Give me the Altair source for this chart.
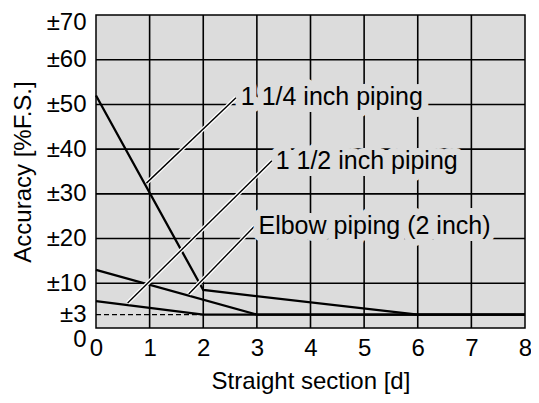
import altair as alt
import pandas as pd

# ---- data ----
s14_x = [0, 2, 6, 8]
s14_y = [52, 8.5, 3, 3]
elbow_x = [0, 3, 8]
elbow_y = [13, 3, 3]
s12_x = [0, 2, 8]
s12_y = [6, 3, 3]

dash_x = [0, 2]
dash_y = [3, 3]

labels = ["1 1/4 inch piping", "1 1/2 inch piping", "Elbow piping (2 inch)"]
leader_x1 = [0.94, 0.59, 1.73]
leader_y1 = [32.4, 5.6, 7.6]
leader_x2 = [2.61, 3.28, 2.96]
leader_y2 = [51.5, 37.4, 22.8]
label_x = [2.7, 3.35, 3.03]
label_y = [51.7, 37.4, 22.8]

x_ticks = [0, 1, 2, 3, 4, 5, 6, 7, 8]
y_ticks = [0, 3, 10, 20, 30, 40, 50, 60, 70]
x_grid = [1, 2, 3, 4, 5, 6, 7]
y_grid = [10, 20, 30, 40, 50, 60]

FONT = "Liberation Sans"
BG = "#dcdcdc"

rows = []
for name, xs, ys in [("s14", s14_x, s14_y), ("elbow", elbow_x, elbow_y), ("s12", s12_x, s12_y)]:
    for i, (a, b) in enumerate(zip(xs, ys)):
        rows.append({"series": name, "x": a, "y": b, "order": i})
lines_df = pd.DataFrame(rows)
dash_df = pd.DataFrame({"x": dash_x, "y": dash_y})
lead_df = pd.DataFrame({"x": leader_x1, "y": leader_y1, "x2": leader_x2, "y2": leader_y2})
lab_df = pd.DataFrame({"label": labels, "x": label_x, "y": label_y})
xg_df = pd.DataFrame({"x": x_grid})
yg_df = pd.DataFrame({"y": y_grid})

xscale = alt.Scale(domain=[0, 8], nice=False, zero=False)
yscale = alt.Scale(domain=[0, 70], nice=False, zero=False)

xaxis = alt.Axis(values=x_ticks, grid=False, ticks=False, domain=False, labelFlush=False,
                 labelOverlap=False,
                 labelFontSize=24, labelFont=FONT, labelColor="black", labelPadding=8,
                 title="Straight section [d]", titleFont=FONT, titleFontSize=24,
                 titleFontWeight="normal", titleColor="black", titlePadding=9)
yaxis = alt.Axis(values=y_ticks, grid=False, ticks=False, domain=False, labelFlush=False,
                 labelOverlap=False,
                 labelExpr="datum.value == 0 ? '0' : '±' + datum.value",
                 labelOffset={"condition": [{"test": "datum.value == 0", "value": 11},
                                            {"test": "datum.value == 70", "value": 7}],
                              "value": 0},
                 labelFontSize=24, labelFont=FONT, labelColor="black", labelPadding=10,
                 title="Accuracy [%F.S.]", titleFont=FONT, titleFontSize=24,
                 titleFontWeight="normal", titleColor="black", titlePadding=11)


def X(field="x:Q"):
    return alt.X(field, scale=xscale, axis=xaxis)


def Y(field="y:Q"):
    return alt.Y(field, scale=yscale, axis=yaxis)


base_lines = alt.Chart(lines_df).mark_line(color="black", strokeWidth=2.3).encode(
    x=X(), y=Y(), detail="series:N", order="order:Q")

vgrid = alt.Chart(xg_df).mark_rule(color="black", strokeWidth=1.6).encode(x=X())
hgrid = alt.Chart(yg_df).mark_rule(color="black", strokeWidth=1.6).encode(y=Y())

dash = alt.Chart(dash_df).mark_line(color="black", strokeWidth=1.3, strokeDash=[5, 3]).encode(
    x=X(), y=Y())

lead_white = alt.Chart(lead_df).mark_rule(color="white", strokeWidth=4).encode(
    x=X(), y=Y(), x2="x2:Q", y2="y2:Q")
lead_black = alt.Chart(lead_df).mark_rule(color="black", strokeWidth=1.4).encode(
    x=X(), y=Y(), x2="x2:Q", y2="y2:Q")

halo = alt.Chart(lab_df).mark_text(align="left", baseline="middle", font=FONT, fontSize=25,
                                   color=BG, stroke=BG, strokeWidth=14,
                                   strokeJoin="round").encode(
    x=X(), y=Y(), text="label:N")
text = alt.Chart(lab_df).mark_text(align="left", baseline="middle", font=FONT, fontSize=25,
                                   color="black").encode(
    x=X(), y=Y(), text="label:N")

chart = alt.layer(vgrid, hgrid, base_lines, dash, lead_white, lead_black, halo, text).properties(
    width=429, height=313,
    autosize=alt.AutoSizeParams(type="none"),
    padding={"left": 88, "top": 7, "right": 6, "bottom": 67},
    background="white",
).configure_view(fill=BG, stroke="black", strokeWidth=1.5)

chart.save("out.html", embed_options={"renderer": "svg", "actions": False})
